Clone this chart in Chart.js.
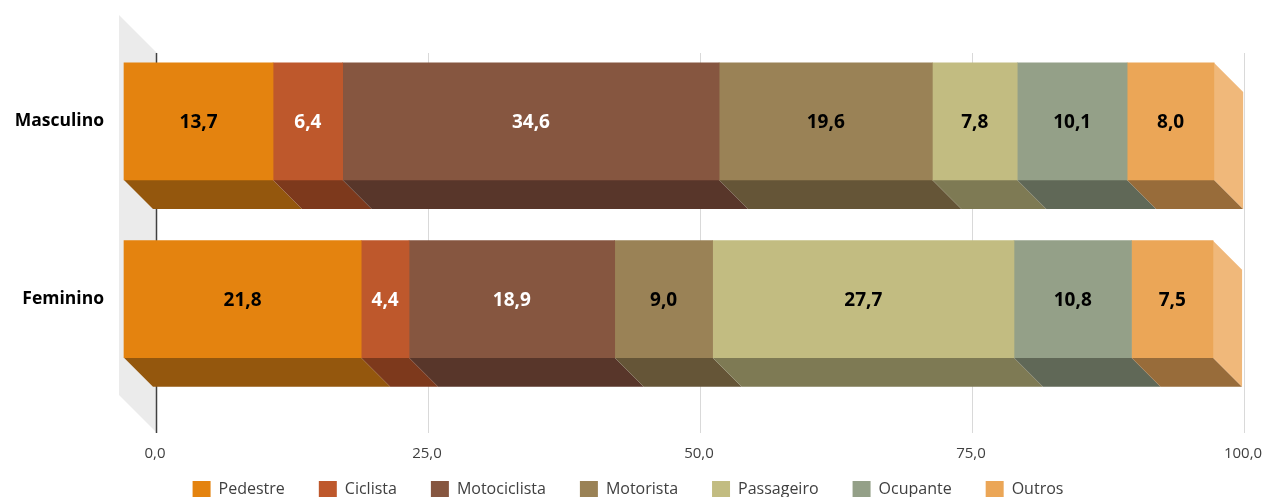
<!DOCTYPE html>
<html>
<head>
<meta charset="utf-8">
<script src="https://cdn.jsdelivr.net/npm/chart.js@4.4.0/dist/chart.umd.min.js"></script>
<style>
  html, body { margin: 0; padding: 0; background: #fff; }
  #wrap { width: 1268px; height: 497px; }
</style>
</head>
<body>
<div id="wrap"><canvas id="chart"></canvas></div>
<script>
const categories = ["Masculino", "Feminino"];
const seriesNames = ["Pedestre", "Ciclista", "Motociclista", "Motorista", "Passageiro", "Ocupante", "Outros"];
const pedestre = [13.7, 21.8];
const ciclista = [6.4, 4.4];
const motociclista = [34.6, 18.9];
const motorista = [19.6, 9.0];
const passageiro = [7.8, 27.7];
const ocupante = [10.1, 10.8];
const outros = [8.0, 7.5];
const xTicks = [0, 25, 50, 75, 100];

const seriesValues = [pedestre, ciclista, motociclista, motorista, passageiro, ocupante, outros];

// styles
const frontColors = ["#E4830F", "#BE582C", "#865640", "#9A8256", "#C2BC81", "#94A088", "#EBA657"];
const bottomColors = ["#94570D", "#7D391C", "#58362A", "#655537", "#7E7A54", "#606857", "#986C3A"];
const sideColor = "#F0B87A";
const labelColors = ["#000", "#fff", "#fff", "#000", "#000", "#000", "#000"];
const FONT = "'Open Sans', sans-serif";

// 3d offsets (front face is shifted left/up from the back plane)
const FX = 31, DY = 29, BACK = 2, WALL = 38;

function fmt(v) {
  return v.toFixed(1).replace(".", ",");
}

const depthPlugin = {
  id: "depth",
  beforeDatasetsDraw(chart) {
    const ctx = chart.ctx;
    const x = chart.scales.x;
    const top = 53, bottom = 433;
    const x0 = x.getPixelForValue(0) + BACK;

    ctx.save();
    // side wall
    ctx.fillStyle = "#EBEBEB";
    ctx.beginPath();
    ctx.moveTo(x0 - WALL, top - WALL);
    ctx.lineTo(x0, top);
    ctx.lineTo(x0, bottom);
    ctx.lineTo(x0 - WALL, bottom - WALL);
    ctx.closePath();
    ctx.fill();

    // grid lines on back wall
    xTicks.forEach((t) => {
      const px = Math.round(x.getPixelForValue(t) + BACK) - 0.5;
      ctx.strokeStyle = t === 0 ? "#404040" : "#D9D9D9";
      ctx.lineWidth = t === 0 ? 1.5 : 1;
      ctx.beginPath();
      ctx.moveTo(px, top);
      ctx.lineTo(px, bottom);
      ctx.stroke();
    });

    // bottom faces and end faces
    const last = chart.data.datasets.length - 1;
    chart.data.datasets.forEach((ds, i) => {
      const meta = chart.getDatasetMeta(i);
      meta.data.forEach((bar) => {
        const p = bar.getProps(["x", "y", "base", "height"], true);
        const l = Math.min(p.x, p.base), r = Math.max(p.x, p.base);
        const yt = p.y - p.height / 2, yb = p.y + p.height / 2;
        ctx.fillStyle = bottomColors[i];
        ctx.beginPath();
        ctx.moveTo(l - FX, yb - DY);
        ctx.lineTo(r - FX, yb - DY);
        ctx.lineTo(r - BACK, yb);
        ctx.lineTo(l - BACK, yb);
        ctx.closePath();
        ctx.fill();
        if (i === last) {
          ctx.fillStyle = sideColor;
          ctx.beginPath();
          ctx.moveTo(r - FX, yt - DY);
          ctx.lineTo(r - BACK, yt);
          ctx.lineTo(r - BACK, yb);
          ctx.lineTo(r - FX, yb - DY);
          ctx.closePath();
          ctx.fill();
        }
      });
    });
    ctx.restore();

    // front faces: let the library draw bars shifted to the front plane
    ctx.save();
    ctx.translate(-FX, -DY);
  },
  afterDatasetsDraw(chart) {
    const ctx = chart.ctx;
    ctx.restore();
    ctx.save();
    ctx.textAlign = "center";
    ctx.textBaseline = "middle";
    ctx.font = "bold 19px " + FONT;
    chart.data.datasets.forEach((ds, i) => {
      const meta = chart.getDatasetMeta(i);
      meta.data.forEach((bar, j) => {
        const p = bar.getProps(["x", "y", "base"], true);
        ctx.fillStyle = labelColors[i];
        ctx.fillText(fmt(ds.data[j]), (p.x + p.base) / 2 - FX, p.y - DY + 1);
      });
    });
    ctx.restore();
  }
};

const datasets = seriesNames.map((name, i) => ({
  label: name,
  data: seriesValues[i],
  backgroundColor: frontColors[i],
  borderWidth: 0,
  barThickness: 117,
  clip: false
}));

new Chart(document.getElementById("chart"), {
  type: "bar",
  data: { labels: categories, datasets: datasets },
  plugins: [depthPlugin],
  options: {
    indexAxis: "y",
    responsive: true,
    maintainAspectRatio: false,
    animation: false,
    layout: { padding: { top: 59, right: 25, bottom: -11, left: 13 } },
    scales: {
      x: {
        stacked: true,
        min: 0,
        max: 100,
        grid: { display: false, drawTicks: false },
        border: { display: false },
        afterBuildTicks: (scale) => {
          scale.ticks = xTicks.map((v) => ({ value: v }));
        },
        afterFit: (scale) => {
          // keep the axis box short so the legend sits close, but don't clip its labels
          scale.height = 30;
          scale.paddingLeft = 0;
          scale.paddingRight = 0;
          scale._computeLabelArea = () => undefined;
        },
        ticks: {
          padding: 28,
          color: "#404040",
          font: { family: FONT, size: 15 },
          callback: (v) => fmt(v)
        }
      },
      y: {
        stacked: true,
        grid: { display: false, drawTicks: false },
        border: { display: false },
        afterFit: (scale) => { scale.width = 142; },
        ticks: {
          padding: 51,
          labelOffset: -29,
          color: "#000",
          font: { family: FONT, size: 17.5, weight: "bold" }
        }
      }
    },
    plugins: {
      tooltip: { enabled: false },
      legend: {
        position: "bottom",
        labels: {
          boxWidth: 18,
          boxHeight: 17,
          padding: 34,
          color: "#404040",
          font: { family: FONT, size: 16 }
        }
      }
    }
  }
});
</script>
</body>
</html>
